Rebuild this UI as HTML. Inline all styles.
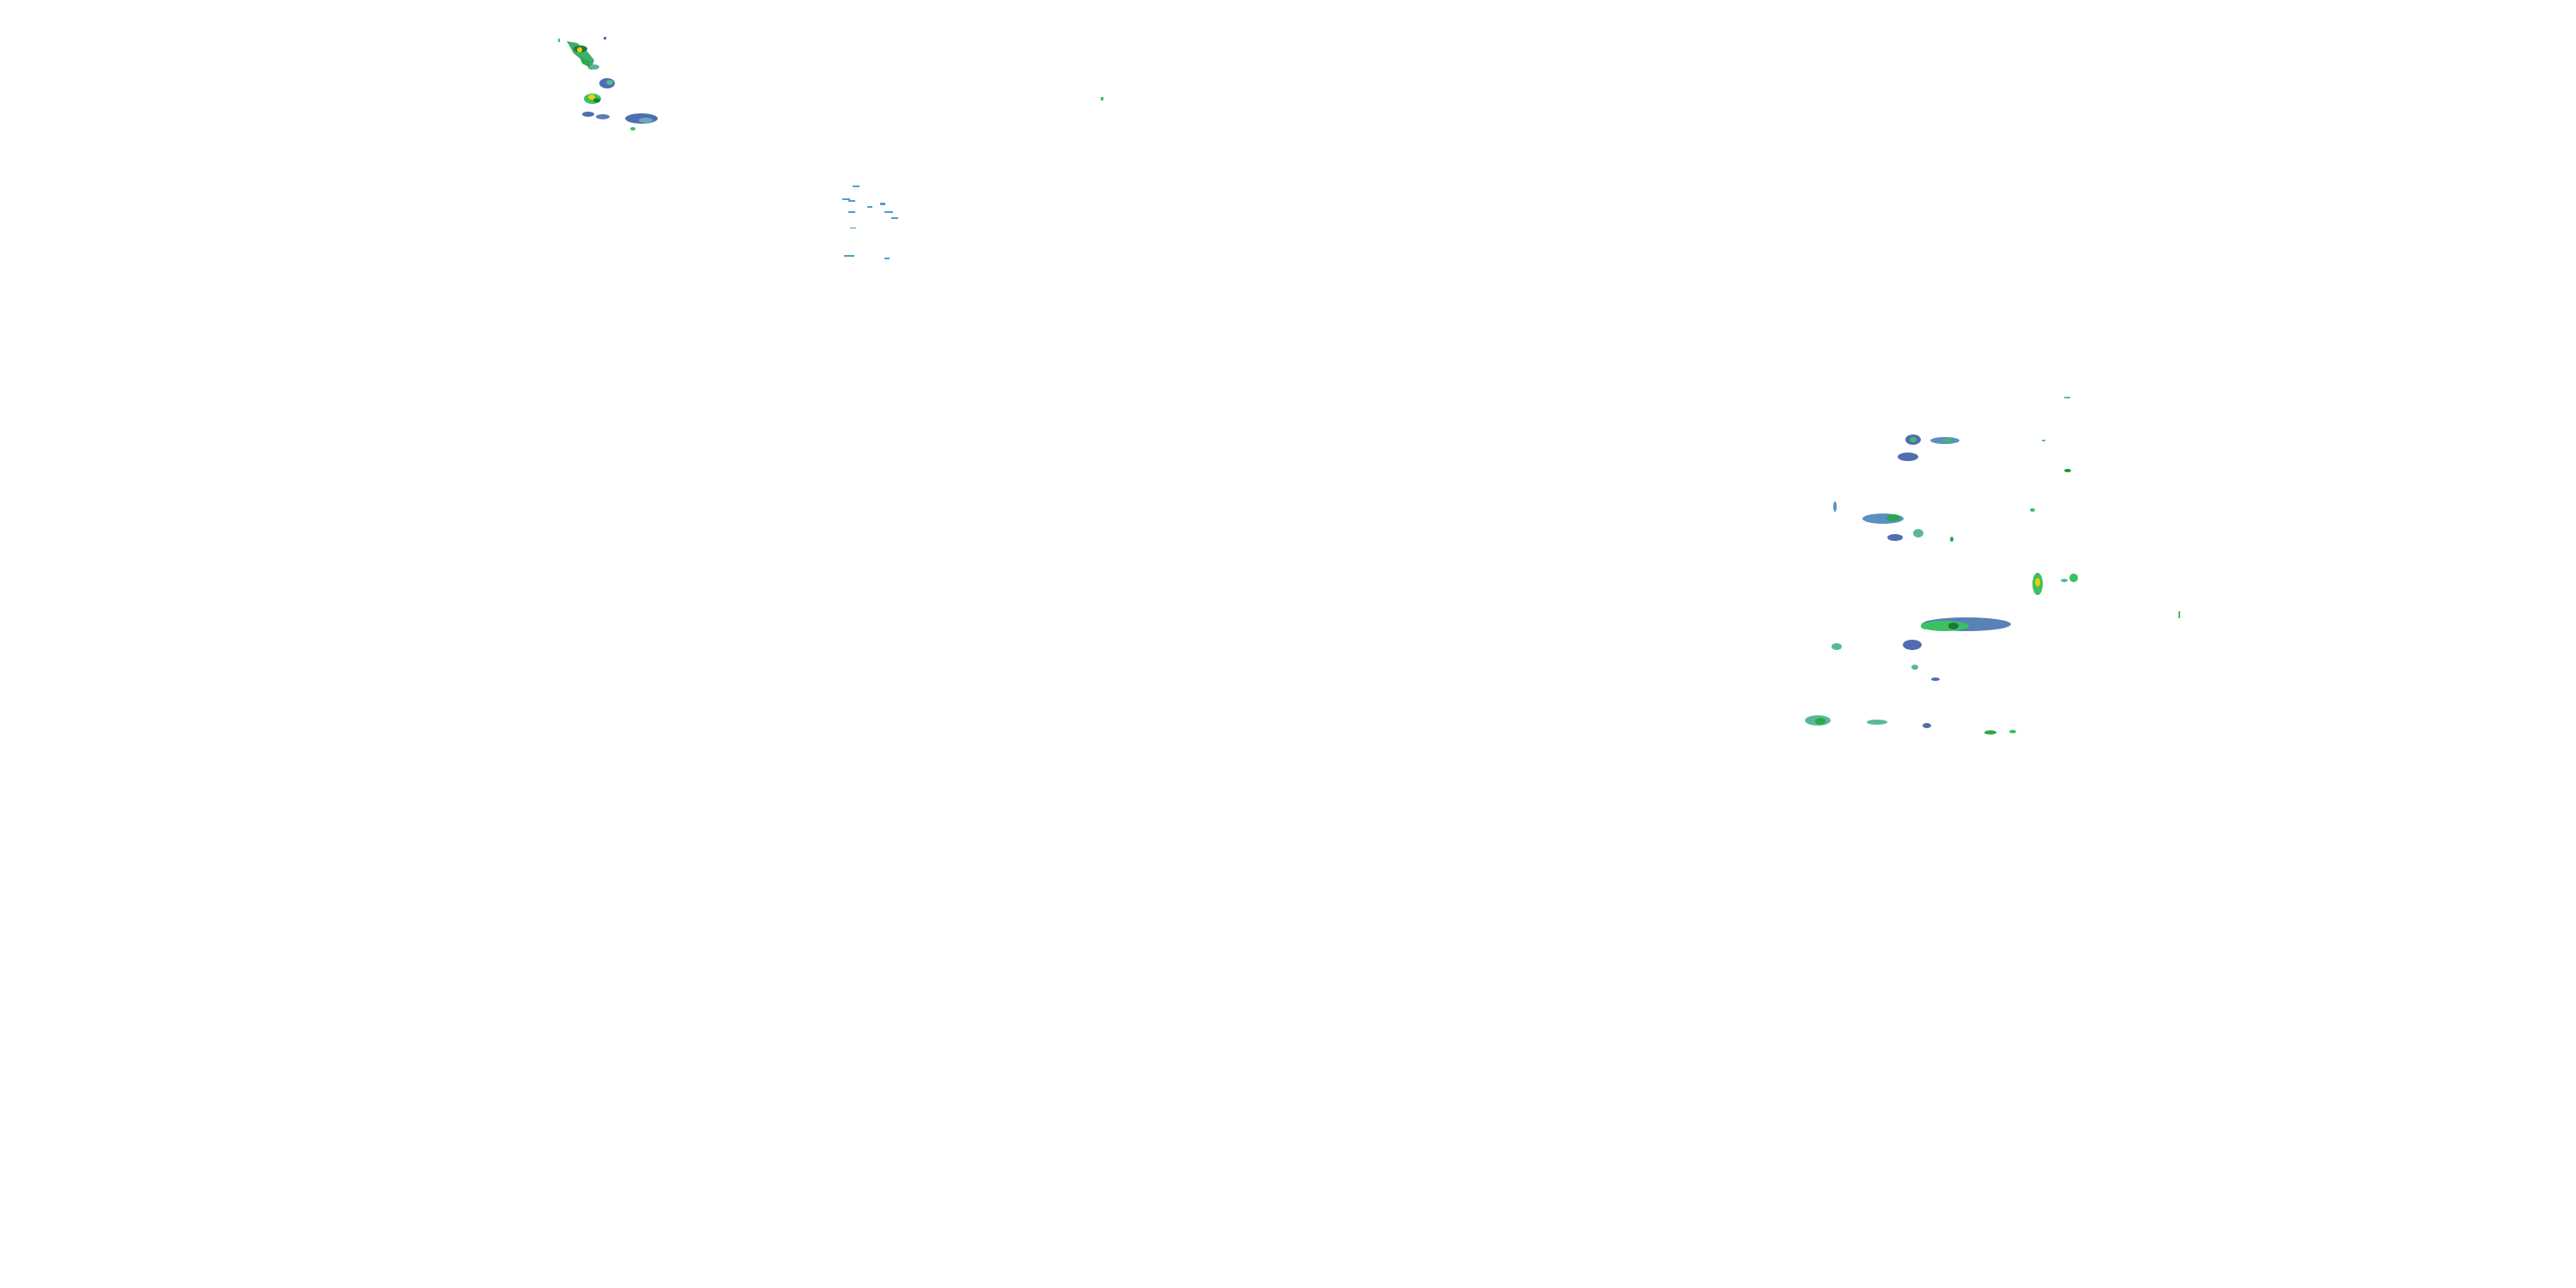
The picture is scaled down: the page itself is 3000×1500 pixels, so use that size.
<!DOCTYPE html>
<html><head><meta charset="utf-8"><style>html,body{margin:0;padding:0;background:#fff}svg{display:block}</style></head>
<body>
<svg width="3000" height="1500" viewBox="0 0 3000 1500" xmlns="http://www.w3.org/2000/svg">
<rect width="3000" height="1500" fill="#fff"/>
<g fill="#4f6db0">
<!-- top-left cluster -->
<path d="M660 48 L672 50 L684 60 L692 70 L690 76 L680 72 L668 62 Z" fill="#3fae6a"/>
<ellipse cx="676" cy="57" rx="8" ry="4" fill="#1f7a3a"/>
<ellipse cx="675" cy="58" rx="3" ry="3" fill="#f0d000"/>
<path d="M675 66 L688 72 L686 78 L678 74 Z" fill="#2aa84a"/>
<ellipse cx="689" cy="78" rx="4" ry="3" fill="#1a8a3a"/>
<ellipse cx="690" cy="79" rx="1.5" ry="1.5" fill="#f0d000"/>
<ellipse cx="692" cy="78" rx="6" ry="3" fill="#5fb0a0"/>
<ellipse cx="707" cy="97" rx="9" ry="6"/>
<ellipse cx="710" cy="96" rx="4" ry="3" fill="#5ab89a"/>
<ellipse cx="690" cy="115" rx="10" ry="6" fill="#3cc060"/>
<ellipse cx="689" cy="113" rx="4" ry="3" fill="#f0d000"/>
<ellipse cx="695" cy="117" rx="4" ry="2.5" fill="#1f7a3a"/>
<ellipse cx="747" cy="138" rx="19" ry="6"/>
<ellipse cx="752" cy="140" rx="8" ry="3" fill="#6aa8c0"/>
<ellipse cx="685" cy="133" rx="7" ry="3"/>
<ellipse cx="702" cy="136" rx="8" ry="3" fill="#5a80b8"/>
<ellipse cx="737" cy="150" rx="3" ry="2" fill="#3cc060"/>
<rect x="703" y="43" width="3" height="3"/>
<rect x="650" y="45" width="2" height="4" fill="#3cc060"/>
<!-- top-middle streaks -->
<g fill="#4aa0c8">
<rect x="993" y="216" width="8" height="2"/><rect x="981" y="231" width="9" height="2"/><rect x="988" y="233" width="8" height="2"/>
<rect x="1010" y="240" width="6" height="2"/><rect x="1025" y="236" width="6" height="3"/><rect x="1030" y="246" width="10" height="2"/>
<rect x="1038" y="253" width="8" height="2"/><rect x="988" y="246" width="8" height="2"/><rect x="990" y="265" width="7" height="1"/>
<rect x="983" y="297" width="12" height="2"/><rect x="1030" y="300" width="6" height="2"/>
</g>
<rect x="1282" y="113" width="3" height="4" fill="#3cc060"/>
<!-- right cluster -->
<ellipse cx="2228" cy="512" rx="9" ry="6"/><ellipse cx="2228" cy="512" rx="4" ry="3" fill="#3cc060"/>
<ellipse cx="2265" cy="513" rx="17" ry="4" fill="#5a90c0"/><ellipse cx="2268" cy="513" rx="6" ry="2" fill="#3cc060"/>
<ellipse cx="2222" cy="532" rx="12" ry="5"/>
<ellipse cx="2137" cy="590" rx="2" ry="6" fill="#5a90c0"/>
<ellipse cx="2193" cy="604" rx="24" ry="6" fill="#5a90c0"/><ellipse cx="2205" cy="603" rx="8" ry="4" fill="#2aa84a"/>
<ellipse cx="2207" cy="626" rx="9" ry="4"/>
<ellipse cx="2234" cy="621" rx="6" ry="5" fill="#5ab89a"/>
<ellipse cx="2273" cy="628" rx="2" ry="3" fill="#2aa84a"/>
<ellipse cx="2373" cy="680" rx="6" ry="13" fill="#3cc060"/>
<ellipse cx="2373" cy="678" rx="3" ry="5" fill="#f0d000"/>
<ellipse cx="2415" cy="673" rx="5" ry="5" fill="#3cc060"/>
<ellipse cx="2404" cy="676" rx="4" ry="2" fill="#5ab89a"/>
<ellipse cx="2290" cy="727" rx="52" ry="8" fill="#5a80b8"/>
<ellipse cx="2265" cy="729" rx="28" ry="6" fill="#3cc060"/>
<ellipse cx="2275" cy="729" rx="6" ry="4" fill="#1f7a3a"/>
<ellipse cx="2243" cy="729" rx="6" ry="4" fill="#3cc060"/>
<ellipse cx="2227" cy="751" rx="11" ry="6"/>
<ellipse cx="2139" cy="753" rx="6" ry="4" fill="#5ab89a"/>
<ellipse cx="2230" cy="777" rx="4" ry="3" fill="#5ab89a"/>
<ellipse cx="2254" cy="791" rx="5" ry="2"/>
<ellipse cx="2117" cy="839" rx="15" ry="6" fill="#5ab89a"/><ellipse cx="2120" cy="840" rx="6" ry="4" fill="#2aa84a"/>
<ellipse cx="2186" cy="841" rx="12" ry="3" fill="#5ab89a"/>
<ellipse cx="2244" cy="845" rx="5" ry="3"/>
<ellipse cx="2318" cy="853" rx="7" ry="2.5" fill="#2aa84a"/>
<ellipse cx="2344" cy="852" rx="4" ry="2" fill="#3cc060"/>
<ellipse cx="2408" cy="548" rx="4" ry="2" fill="#1f9a3a"/>
<ellipse cx="2367" cy="594" rx="3" ry="2" fill="#3cc060"/>
<rect x="2537" y="712" width="2" height="8" fill="#3cc060"/>
<rect x="2404" y="462" width="7" height="2" fill="#5ab89a"/>
<rect x="2378" y="512" width="4" height="2" fill="#5ab89a"/>
</g>
</svg>
</body></html>
